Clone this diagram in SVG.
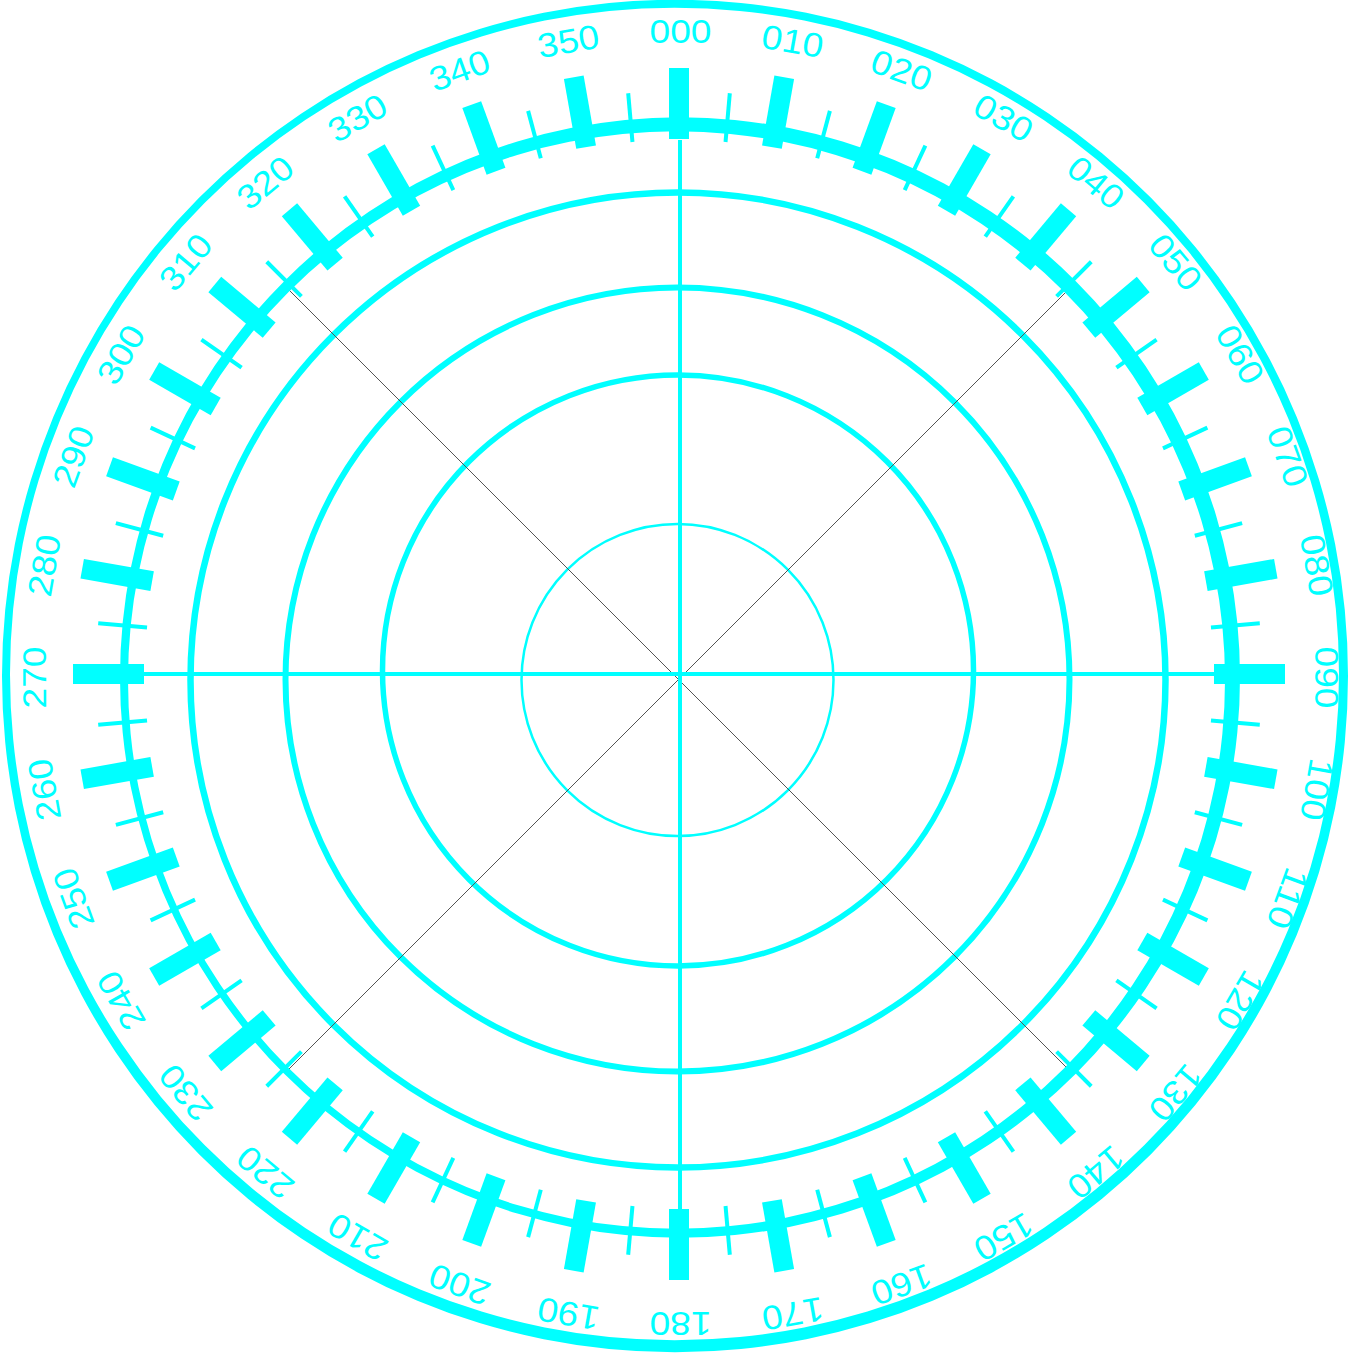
<svg xmlns="http://www.w3.org/2000/svg" width="1355" height="1355" viewBox="0 0 1355 1355">
<style>
.c{fill:none;stroke:#00FFFF}
.ax{stroke:#00FFFF;stroke-width:4}
.dg{stroke:#555;stroke-width:1}
.lb{font-family:"Liberation Sans",Arial,sans-serif;font-size:34px;fill:#00FFFF;text-anchor:middle}
</style>
<defs>
<rect id="maj" x="669" y="68" width="20" height="71" fill="#00FFFF"/>
<rect id="min" x="677" y="91" width="4" height="49" fill="#00FFFF"/>
</defs>
<rect width="1355" height="1355" fill="#fff"/>
<g id="border">
<path fill="#00FFFF" fill-rule="evenodd" d="M2 676A673 676 0 1 0 1348 676A673 676 0 1 0 2 676ZM10 674A664.5 666 0 1 0 1339 674A664.5 666 0 1 0 10 674Z"/>
</g>
<g id="range-rings">
<circle class="c" cx="678" cy="680" r="487.5" stroke-width="6.5"/>
<circle class="c" cx="677.5" cy="679.5" r="392" stroke-width="6"/>
<circle class="c" cx="678" cy="670.5" r="295.5" stroke-width="5.5"/>
<circle class="c" cx="677.5" cy="680" r="156" stroke-width="2.5"/>
</g>
<g id="connectors">
<line class="dg" x1="287" y1="288" x2="1070" y2="1071"/>
<line class="dg" x1="1070" y1="288" x2="288" y2="1070"/>
<line class="ax" x1="680" y1="140" x2="680" y2="1215"/>
<line class="ax" x1="140" y1="674" x2="1218" y2="674"/>
</g>
<g id="tick-ring">
<path fill="#00FFFF" fill-rule="evenodd" d="M120 677.5A560 560 0 1 0 1240 677.5A560 560 0 1 0 120 677.5ZM128 680A548.5 548.5 0 1 0 1225 680A548.5 548.5 0 1 0 128 680Z"/>
</g>
<g id="major-ticks">
<use href="#maj"/>
<use href="#maj" transform="rotate(10 679 674)"/>
<use href="#maj" transform="rotate(20 679 674)"/>
<use href="#maj" transform="rotate(30 679 674)"/>
<use href="#maj" transform="rotate(40 679 674)"/>
<use href="#maj" transform="rotate(50 679 674)"/>
<use href="#maj" transform="rotate(60 679 674)"/>
<use href="#maj" transform="rotate(70 679 674)"/>
<use href="#maj" transform="rotate(80 679 674)"/>
<use href="#maj" transform="rotate(90 679 674)"/>
<use href="#maj" transform="rotate(100 679 674)"/>
<use href="#maj" transform="rotate(110 679 674)"/>
<use href="#maj" transform="rotate(120 679 674)"/>
<use href="#maj" transform="rotate(130 679 674)"/>
<use href="#maj" transform="rotate(140 679 674)"/>
<use href="#maj" transform="rotate(150 679 674)"/>
<use href="#maj" transform="rotate(160 679 674)"/>
<use href="#maj" transform="rotate(170 679 674)"/>
<use href="#maj" transform="rotate(180 679 674)"/>
<use href="#maj" transform="rotate(190 679 674)"/>
<use href="#maj" transform="rotate(200 679 674)"/>
<use href="#maj" transform="rotate(210 679 674)"/>
<use href="#maj" transform="rotate(220 679 674)"/>
<use href="#maj" transform="rotate(230 679 674)"/>
<use href="#maj" transform="rotate(240 679 674)"/>
<use href="#maj" transform="rotate(250 679 674)"/>
<use href="#maj" transform="rotate(260 679 674)"/>
<use href="#maj" transform="rotate(270 679 674)"/>
<use href="#maj" transform="rotate(280 679 674)"/>
<use href="#maj" transform="rotate(290 679 674)"/>
<use href="#maj" transform="rotate(300 679 674)"/>
<use href="#maj" transform="rotate(310 679 674)"/>
<use href="#maj" transform="rotate(320 679 674)"/>
<use href="#maj" transform="rotate(330 679 674)"/>
<use href="#maj" transform="rotate(340 679 674)"/>
<use href="#maj" transform="rotate(350 679 674)"/>
</g>
<g id="minor-ticks">
<use href="#min" transform="rotate(5 679 674)"/>
<use href="#min" transform="rotate(15 679 674)"/>
<use href="#min" transform="rotate(25 679 674)"/>
<use href="#min" transform="rotate(35 679 674)"/>
<use href="#min" transform="rotate(45 679 674)"/>
<use href="#min" transform="rotate(55 679 674)"/>
<use href="#min" transform="rotate(65 679 674)"/>
<use href="#min" transform="rotate(75 679 674)"/>
<use href="#min" transform="rotate(85 679 674)"/>
<use href="#min" transform="rotate(95 679 674)"/>
<use href="#min" transform="rotate(105 679 674)"/>
<use href="#min" transform="rotate(115 679 674)"/>
<use href="#min" transform="rotate(125 679 674)"/>
<use href="#min" transform="rotate(135 679 674)"/>
<use href="#min" transform="rotate(145 679 674)"/>
<use href="#min" transform="rotate(155 679 674)"/>
<use href="#min" transform="rotate(165 679 674)"/>
<use href="#min" transform="rotate(175 679 674)"/>
<use href="#min" transform="rotate(185 679 674)"/>
<use href="#min" transform="rotate(195 679 674)"/>
<use href="#min" transform="rotate(205 679 674)"/>
<use href="#min" transform="rotate(215 679 674)"/>
<use href="#min" transform="rotate(225 679 674)"/>
<use href="#min" transform="rotate(235 679 674)"/>
<use href="#min" transform="rotate(245 679 674)"/>
<use href="#min" transform="rotate(255 679 674)"/>
<use href="#min" transform="rotate(265 679 674)"/>
<use href="#min" transform="rotate(275 679 674)"/>
<use href="#min" transform="rotate(285 679 674)"/>
<use href="#min" transform="rotate(295 679 674)"/>
<use href="#min" transform="rotate(305 679 674)"/>
<use href="#min" transform="rotate(315 679 674)"/>
<use href="#min" transform="rotate(325 679 674)"/>
<use href="#min" transform="rotate(335 679 674)"/>
<use href="#min" transform="rotate(345 679 674)"/>
<use href="#min" transform="rotate(355 679 674)"/>
</g>
<g id="labels" class="lb">
<text x="680.5" y="43.2" textLength="62" lengthAdjust="spacingAndGlyphs">000</text>
<text x="680.5" y="43.2" textLength="62" lengthAdjust="spacingAndGlyphs" transform="rotate(10 680.5 677.5)">010</text>
<text x="680.5" y="43.2" textLength="62" lengthAdjust="spacingAndGlyphs" transform="rotate(20 680.5 677.5)">020</text>
<text x="680.5" y="43.2" textLength="62" lengthAdjust="spacingAndGlyphs" transform="rotate(30 680.5 677.5)">030</text>
<text x="680.5" y="43.2" textLength="62" lengthAdjust="spacingAndGlyphs" transform="rotate(40 680.5 677.5)">040</text>
<text x="680.5" y="43.2" textLength="62" lengthAdjust="spacingAndGlyphs" transform="rotate(50 680.5 677.5)">050</text>
<text x="680.5" y="43.2" textLength="62" lengthAdjust="spacingAndGlyphs" transform="rotate(60 680.5 677.5)">060</text>
<text x="680.5" y="43.2" textLength="62" lengthAdjust="spacingAndGlyphs" transform="rotate(70 680.5 677.5)">070</text>
<text x="680.5" y="43.2" textLength="62" lengthAdjust="spacingAndGlyphs" transform="rotate(80 680.5 677.5)">080</text>
<text x="680.5" y="43.2" textLength="62" lengthAdjust="spacingAndGlyphs" transform="rotate(90 680.5 677.5)">090</text>
<text x="680.5" y="43.2" textLength="62" lengthAdjust="spacingAndGlyphs" transform="rotate(100 680.5 677.5)">100</text>
<text x="680.5" y="43.2" textLength="62" lengthAdjust="spacingAndGlyphs" transform="rotate(110 680.5 677.5)">110</text>
<text x="680.5" y="43.2" textLength="62" lengthAdjust="spacingAndGlyphs" transform="rotate(120 680.5 677.5)">120</text>
<text x="680.5" y="43.2" textLength="62" lengthAdjust="spacingAndGlyphs" transform="rotate(130 680.5 677.5)">130</text>
<text x="680.5" y="43.2" textLength="62" lengthAdjust="spacingAndGlyphs" transform="rotate(140 680.5 677.5)">140</text>
<text x="680.5" y="43.2" textLength="62" lengthAdjust="spacingAndGlyphs" transform="rotate(150 680.5 677.5)">150</text>
<text x="680.5" y="43.2" textLength="62" lengthAdjust="spacingAndGlyphs" transform="rotate(160 680.5 677.5)">160</text>
<text x="680.5" y="43.2" textLength="62" lengthAdjust="spacingAndGlyphs" transform="rotate(170 680.5 677.5)">170</text>
<text x="680.5" y="43.2" textLength="62" lengthAdjust="spacingAndGlyphs" transform="rotate(180 680.5 677.5)">180</text>
<text x="680.5" y="43.2" textLength="62" lengthAdjust="spacingAndGlyphs" transform="rotate(190 680.5 677.5)">190</text>
<text x="680.5" y="43.2" textLength="62" lengthAdjust="spacingAndGlyphs" transform="rotate(200 680.5 677.5)">200</text>
<text x="680.5" y="43.2" textLength="62" lengthAdjust="spacingAndGlyphs" transform="rotate(210 680.5 677.5)">210</text>
<text x="680.5" y="43.2" textLength="62" lengthAdjust="spacingAndGlyphs" transform="rotate(220 680.5 677.5)">220</text>
<text x="680.5" y="43.2" textLength="62" lengthAdjust="spacingAndGlyphs" transform="rotate(230 680.5 677.5)">230</text>
<text x="680.5" y="43.2" textLength="62" lengthAdjust="spacingAndGlyphs" transform="rotate(240 680.5 677.5)">240</text>
<text x="680.5" y="43.2" textLength="62" lengthAdjust="spacingAndGlyphs" transform="rotate(250 680.5 677.5)">250</text>
<text x="680.5" y="43.2" textLength="62" lengthAdjust="spacingAndGlyphs" transform="rotate(260 680.5 677.5)">260</text>
<text x="680.5" y="43.2" textLength="62" lengthAdjust="spacingAndGlyphs" transform="rotate(270 680.5 677.5)">270</text>
<text x="680.5" y="43.2" textLength="62" lengthAdjust="spacingAndGlyphs" transform="rotate(280 680.5 677.5)">280</text>
<text x="680.5" y="43.2" textLength="62" lengthAdjust="spacingAndGlyphs" transform="rotate(290 680.5 677.5)">290</text>
<text x="680.5" y="43.2" textLength="62" lengthAdjust="spacingAndGlyphs" transform="rotate(300 680.5 677.5)">300</text>
<text x="680.5" y="43.2" textLength="62" lengthAdjust="spacingAndGlyphs" transform="rotate(310 680.5 677.5)">310</text>
<text x="680.5" y="43.2" textLength="62" lengthAdjust="spacingAndGlyphs" transform="rotate(320 680.5 677.5)">320</text>
<text x="680.5" y="43.2" textLength="62" lengthAdjust="spacingAndGlyphs" transform="rotate(330 680.5 677.5)">330</text>
<text x="680.5" y="43.2" textLength="62" lengthAdjust="spacingAndGlyphs" transform="rotate(340 680.5 677.5)">340</text>
<text x="680.5" y="43.2" textLength="62" lengthAdjust="spacingAndGlyphs" transform="rotate(350 680.5 677.5)">350</text>
</g>
</svg>
